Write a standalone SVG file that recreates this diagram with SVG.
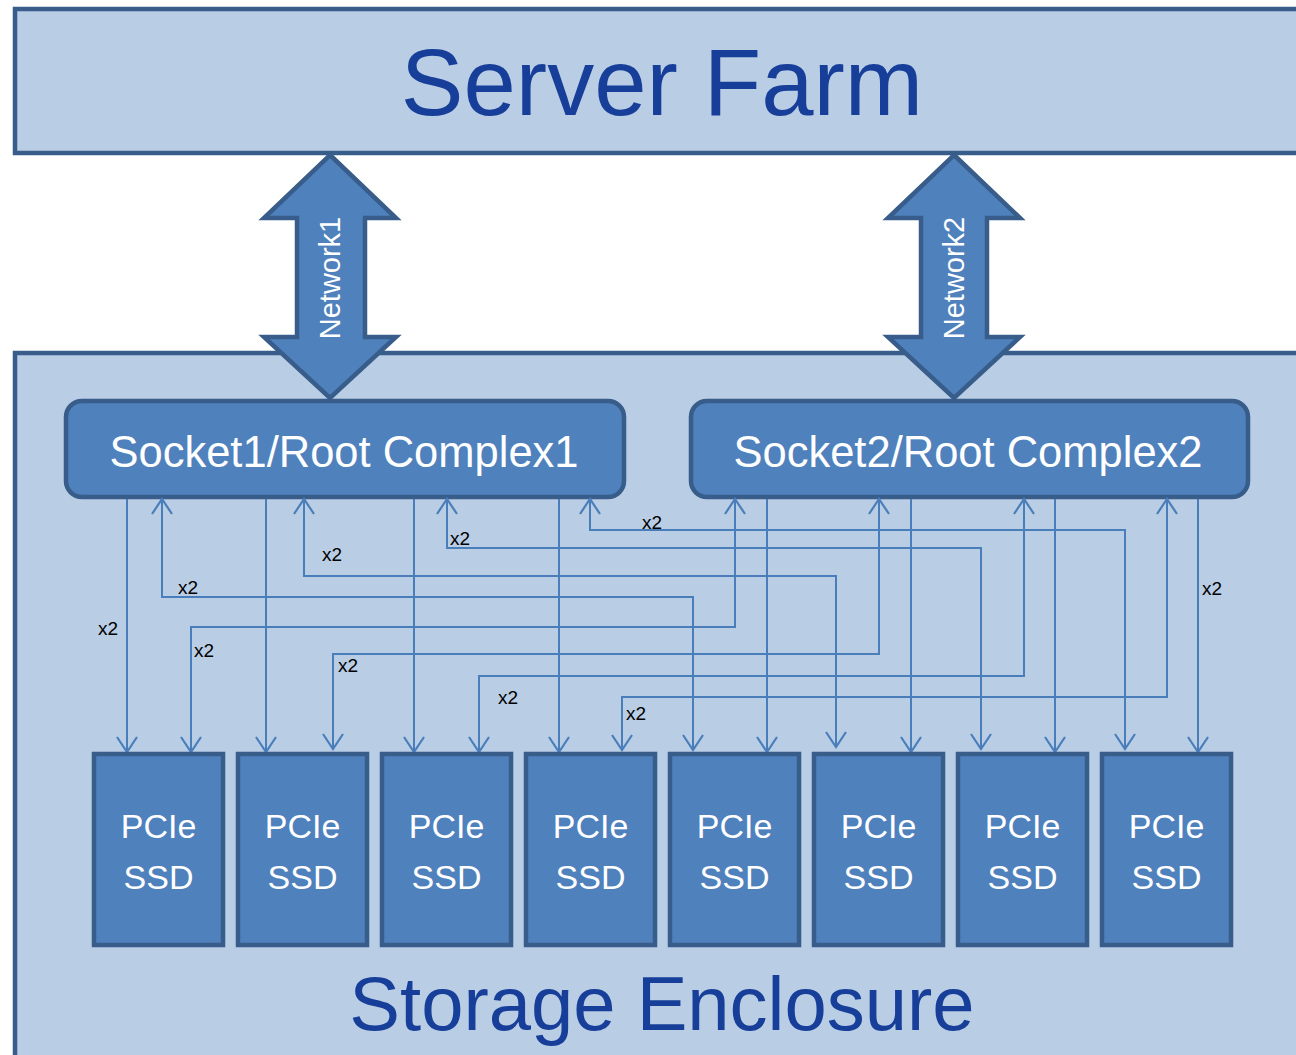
<svg xmlns="http://www.w3.org/2000/svg" width="1296" height="1055" viewBox="0 0 1296 1055">
<defs>
<style>
.panel{fill:#b9cde5;stroke:#385d8a;stroke-width:4.5}
.box{fill:#4f81bd;stroke:#385d8a;stroke-width:4.5}
.title{font-family:"Liberation Sans",Arial,sans-serif;fill:#173f99;text-anchor:middle}
.wt{font-family:"Liberation Sans",Arial,sans-serif;fill:#ffffff;text-anchor:middle}
.lbl{font-family:"Liberation Sans",Arial,sans-serif;fill:#000000;font-size:19px}
.link{fill:none;stroke:#4a7ebb;stroke-width:2}
</style>
<marker id="ah" markerUnits="userSpaceOnUse" viewBox="-17 -12 19 24" refX="0" refY="0" markerWidth="19" markerHeight="24" orient="auto-start-reverse" overflow="visible">
<path d="M-15,-10 L0,0 L-15,10" fill="none" stroke="#4a7ebb" stroke-width="2.2"/>
</marker>
</defs>
<rect width="1296" height="1055" fill="#ffffff"/>
<g id="storage-enclosure">
<rect class="panel" x="15" y="353" width="1300" height="720"/>
<text class="title" x="662" y="1030" font-size="76">Storage Enclosure</text>
</g>
<g id="server-farm">
<rect class="panel" x="15" y="9" width="1300" height="144"/>
<text class="title" x="662" y="115" font-size="94">Server Farm</text>
</g>
<g id="network1">
<polygon class="box" points="330,155 396,218 365,218 365,337 396,337 330,398 264,337 297,337 297,218 264,218"/>
<text class="wt" font-size="29" transform="translate(340,278) rotate(-90)">Network1</text>
</g>
<g id="network2">
<polygon class="box" points="954,155 1020,218 987,218 987,337 1020,337 954,398 888,337 921,337 921,218 888,218"/>
<text class="wt" font-size="29" transform="translate(964,278) rotate(-90)">Network2</text>
</g>
<g id="socket1">
<rect class="box" x="66" y="401" width="558" height="96" rx="16"/>
<text class="wt" x="344" y="467" font-size="43.5">Socket1/Root Complex1</text>
</g>
<g id="socket2">
<rect class="box" x="691" y="401" width="557" height="96" rx="16"/>
<text class="wt" x="968" y="467" font-size="43.5">Socket2/Root Complex2</text>
</g>
<g id="connectors">
<path class="link" marker-end="url(#ah)" d="M127,499 V752"/>
<path class="link" marker-end="url(#ah)" d="M266,499 V752"/>
<path class="link" marker-end="url(#ah)" d="M414,499 V752"/>
<path class="link" marker-end="url(#ah)" d="M559,499 V752"/>
<path class="link" marker-end="url(#ah)" d="M767,499 V752"/>
<path class="link" marker-end="url(#ah)" d="M911,499 V752"/>
<path class="link" marker-end="url(#ah)" d="M1055,499 V752"/>
<path class="link" marker-end="url(#ah)" d="M1198,499 V752"/>
<path class="link" marker-start="url(#ah)" marker-end="url(#ah)" d="M162,499 V597 H693 V750"/>
<path class="link" marker-start="url(#ah)" marker-end="url(#ah)" d="M304,499 V576 H836 V747"/>
<path class="link" marker-start="url(#ah)" marker-end="url(#ah)" d="M447,499 V548 H981 V749"/>
<path class="link" marker-start="url(#ah)" marker-end="url(#ah)" d="M590,499 V530 H1125 V749"/>
<path class="link" marker-start="url(#ah)" marker-end="url(#ah)" d="M735,499 V627 H191 V752"/>
<path class="link" marker-start="url(#ah)" marker-end="url(#ah)" d="M879,499 V654 H333 V749"/>
<path class="link" marker-start="url(#ah)" marker-end="url(#ah)" d="M1024,499 V676 H479 V752"/>
<path class="link" marker-start="url(#ah)" marker-end="url(#ah)" d="M1167,499 V697 H622 V750"/>
<text class="lbl" x="98" y="635">x2</text>
<text class="lbl" x="178" y="594">x2</text>
<text class="lbl" x="322" y="561">x2</text>
<text class="lbl" x="194" y="657">x2</text>
<text class="lbl" x="338" y="672">x2</text>
<text class="lbl" x="450" y="545">x2</text>
<text class="lbl" x="642" y="529">x2</text>
<text class="lbl" x="498" y="704">x2</text>
<text class="lbl" x="626" y="720">x2</text>
<text class="lbl" x="1202" y="595">x2</text>
</g>
<g id="ssd1"><rect class="box" x="94" y="754" width="129" height="191"/><text class="wt" x="158.5" y="838" font-size="34">PCIe</text><text class="wt" x="158.5" y="889" font-size="34">SSD</text></g>
<g id="ssd2"><rect class="box" x="238" y="754" width="129" height="191"/><text class="wt" x="302.5" y="838" font-size="34">PCIe</text><text class="wt" x="302.5" y="889" font-size="34">SSD</text></g>
<g id="ssd3"><rect class="box" x="382" y="754" width="129" height="191"/><text class="wt" x="446.5" y="838" font-size="34">PCIe</text><text class="wt" x="446.5" y="889" font-size="34">SSD</text></g>
<g id="ssd4"><rect class="box" x="526" y="754" width="129" height="191"/><text class="wt" x="590.5" y="838" font-size="34">PCIe</text><text class="wt" x="590.5" y="889" font-size="34">SSD</text></g>
<g id="ssd5"><rect class="box" x="670" y="754" width="129" height="191"/><text class="wt" x="734.5" y="838" font-size="34">PCIe</text><text class="wt" x="734.5" y="889" font-size="34">SSD</text></g>
<g id="ssd6"><rect class="box" x="814" y="754" width="129" height="191"/><text class="wt" x="878.5" y="838" font-size="34">PCIe</text><text class="wt" x="878.5" y="889" font-size="34">SSD</text></g>
<g id="ssd7"><rect class="box" x="958" y="754" width="129" height="191"/><text class="wt" x="1022.5" y="838" font-size="34">PCIe</text><text class="wt" x="1022.5" y="889" font-size="34">SSD</text></g>
<g id="ssd8"><rect class="box" x="1102" y="754" width="129" height="191"/><text class="wt" x="1166.5" y="838" font-size="34">PCIe</text><text class="wt" x="1166.5" y="889" font-size="34">SSD</text></g>
</svg>
